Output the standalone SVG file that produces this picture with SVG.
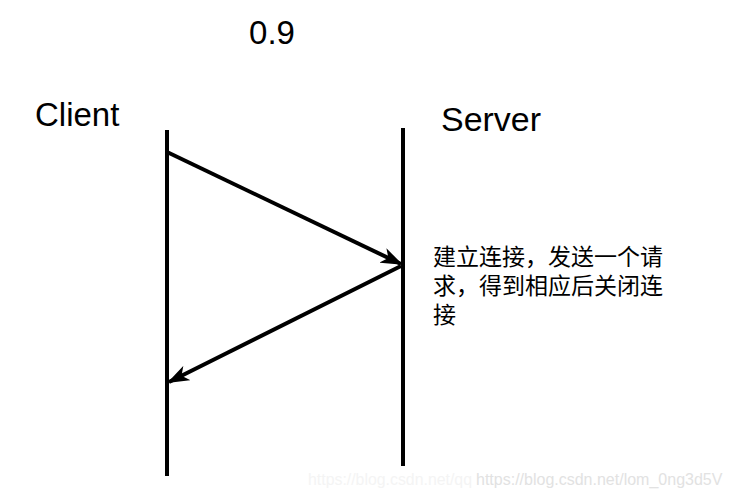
<svg xmlns="http://www.w3.org/2000/svg" width="737" height="498" viewBox="0 0 737 498">
<style>
.lbl{font-family:"Liberation Sans",Arial,sans-serif;fill:#000;font-size:33px}
.cn{font-family:"Liberation Sans","Noto Sans CJK SC",sans-serif;font-size:23px;fill:#000}
.life{stroke:#000;stroke-width:4;fill:none}
.msg{stroke:#000;stroke-width:4;fill:none;marker-end:url(#ah)}
.wm{font-family:"Liberation Sans",Arial,sans-serif;font-size:16px}
</style>
<defs>
<marker id="ah" viewBox="0 0 22 16" refX="20" refY="8" markerWidth="22" markerHeight="16" markerUnits="userSpaceOnUse" orient="auto">
<path d="M0,0 L22,8 L0,16 L6,8 Z" fill="#000"/>
</marker>
</defs>
<rect width="737" height="498" fill="#fff"/>
<text class="lbl" x="272" y="44" text-anchor="middle">0.9</text>
<g id="client">
<text class="lbl" x="35" y="126">Client</text>
<line class="life" x1="167" y1="130" x2="167" y2="476"/>
</g>
<g id="server">
<text class="lbl" x="441" y="131" textLength="100" lengthAdjust="spacingAndGlyphs">Server</text>
<line class="life" x1="403" y1="128" x2="403" y2="466"/>
</g>
<g id="note">
<text class="cn" x="433" y="265">建立连接，发送一个请</text>
<text class="cn" x="433" y="294">求，得到相应后关闭连</text>
<text class="cn" x="433" y="323">接</text>
</g>
<g id="connectors">
<line class="msg" x1="167" y1="152" x2="401" y2="264"/>
<line class="msg" x1="401" y1="266" x2="169" y2="382"/>
</g>
<text class="wm" x="308" y="485" fill="#f4f4f4" textLength="164" lengthAdjust="spacingAndGlyphs">https://blog.csdn.net/qq</text>
<text class="wm" x="476" y="485" fill="#e2e2e2">https://blog.csdn.net/lom_0ng3d5V</text>
</svg>
